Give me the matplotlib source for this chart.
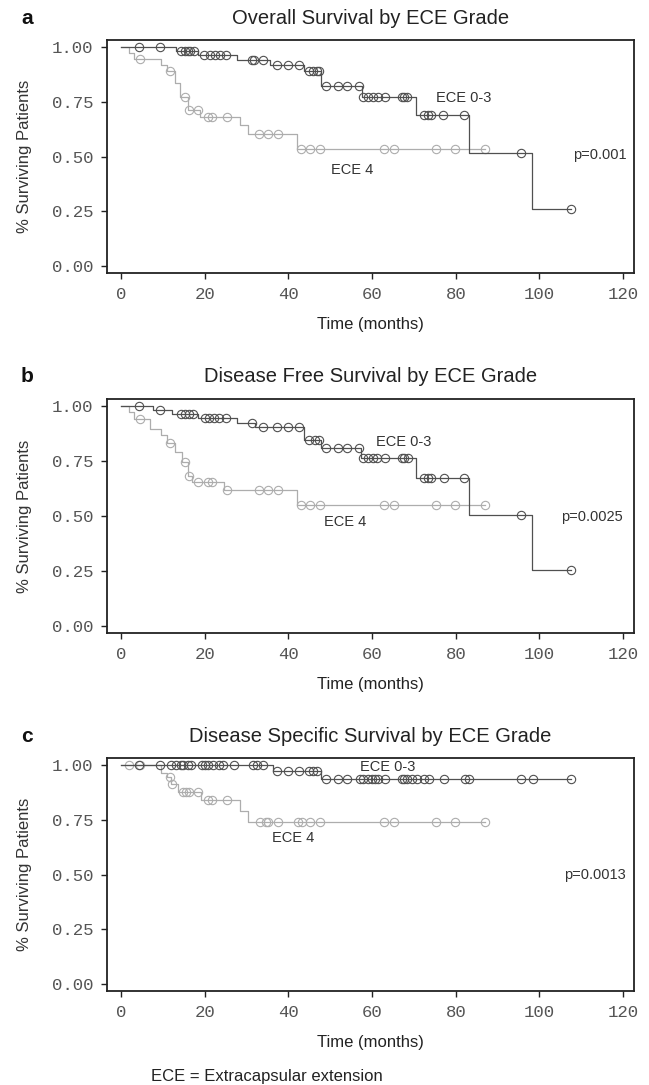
import numpy as np
import matplotlib.pyplot as plt

# ---- data ----
panel_letters = ["a", "b", "c"]
titles = ["Overall Survival by ECE Grade",
          "Disease Free Survival by ECE Grade",
          "Disease Specific Survival by ECE Grade"]
p_values = ["p=0.001", "p=0.0025", "p=0.0013"]

x_ticks = [0, 20, 40, 60, 80, 100, 120]
x_ticklabels = ["0", "20", "40", "60", "80", "100", "120"]
y_ticks = [0.0, 0.25, 0.5, 0.75, 1.0]
y_ticklabels = ["0.00", "0.25", "0.50", "0.75", "1.00"]

# (a) overall survival
os_low_t = [13.1, 18.4, 27.6, 35.6, 43.7, 47.8, 57.5, 70.4, 83.2, 98.3]
os_low_s = [0.983, 0.965, 0.943, 0.919, 0.892, 0.823, 0.774, 0.690, 0.518, 0.259]
os_low_cens = [4.3, 9.2, 14.3, 15.3, 16.0, 16.5, 17.5, 19.9, 21.3, 22.5, 23.7, 25.1,
               31.3, 31.8, 34.0, 37.2, 39.9, 42.5, 45.0, 46.0, 46.9, 47.4, 49.0,
               51.9, 54.0, 56.9, 57.9, 59.0, 60.2, 61.4, 63.1, 67.1, 67.7, 68.3,
               72.4, 73.3, 74.1, 77.0, 82.0, 95.5, 107.6]
os_high_t = [1.8, 3.2, 9.6, 11.0, 12.8, 14.2, 16.0, 18.9, 28.5, 30.4, 42.0]
os_high_s = [0.974, 0.947, 0.918, 0.892, 0.838, 0.774, 0.713, 0.683, 0.645, 0.604, 0.533]
os_high_cens = [4.5, 11.6, 15.3, 16.3, 18.3, 20.8, 21.7, 25.3, 33.0, 35.2, 37.6,
                43.0, 45.2, 47.6, 62.9, 65.3, 75.2, 79.8, 86.9]

# (b) disease free survival
dfs_low_t = [7.7, 12.1, 18.4, 27.6, 32.0, 43.7, 47.8, 57.4, 70.4, 83.2, 98.3]
dfs_low_s = [0.985, 0.967, 0.948, 0.926, 0.906, 0.848, 0.811, 0.764, 0.674, 0.507, 0.254]
dfs_low_cens = [4.3, 9.2, 14.3, 15.3, 16.3, 17.3, 20.1, 21.1, 22.3, 23.5, 25.0,
                31.3, 34.0, 37.2, 39.9, 42.6, 45.0, 46.3, 47.3, 49.0, 51.9, 54.0,
                56.8, 57.9, 59.0, 60.2, 61.2, 63.1, 67.1, 67.7, 68.5, 72.4, 73.4,
                74.0, 77.1, 82.0, 95.5, 107.6]
dfs_high_t = [1.8, 3.0, 6.9, 9.6, 11.0, 13.0, 14.5, 16.0, 17.0, 24.5, 42.0]
dfs_high_s = [0.972, 0.944, 0.898, 0.868, 0.834, 0.790, 0.746, 0.685, 0.655, 0.620, 0.551]
dfs_high_cens = [4.5, 11.6, 15.3, 16.3, 18.3, 20.8, 21.7, 25.3, 33.0, 35.2, 37.6,
                 43.0, 45.2, 47.6, 62.9, 65.3, 75.2, 79.8, 86.9]

# (c) disease specific survival
dss_low_t = [36.4, 47.8]
dss_low_s = [0.974, 0.939]
dss_low_cens = [4.3, 9.2, 12.0, 13.2, 14.4, 14.9, 15.9, 16.7, 19.3, 20.1, 20.9, 22.1,
                23.3, 24.3, 26.9, 31.6, 32.4, 34.0, 37.2, 39.8, 42.5, 45.0, 46.0,
                46.9, 49.0, 51.9, 54.0, 57.0, 57.9, 59.0, 59.9, 60.7, 61.5, 63.1,
                67.1, 67.7, 68.3, 69.5, 70.7, 72.3, 73.5, 77.2, 82.1, 83.2, 95.5,
                98.4, 107.6]
dss_high_t = [9.5, 11.0, 12.0, 13.5, 19.0, 28.4, 30.4]
dss_high_s = [0.965, 0.947, 0.912, 0.879, 0.841, 0.790, 0.739]
dss_high_cens = [2.0, 4.5, 11.6, 12.1, 14.7, 15.5, 16.3, 18.3, 20.8, 21.7, 25.3,
                 33.1, 34.6, 35.2, 37.6, 42.4, 43.2, 45.2, 47.6, 62.9, 65.3, 75.2,
                 79.8, 86.9]

panels = [
    (os_low_t, os_low_s, os_low_cens, os_high_t, os_high_s, os_high_cens),
    (dfs_low_t, dfs_low_s, dfs_low_cens, dfs_high_t, dfs_high_s, dfs_high_cens),
    (dss_low_t, dss_low_s, dss_low_cens, dss_high_t, dss_high_s, dss_high_cens),
]

# label positions (data coords)
low_label_xy = [(81.8, 0.767), (67.5, 0.837), (63.7, 0.99)]
high_label_xy = [(55.2, 0.439), (53.6, 0.472), (41.2, 0.667)]
p_xy = [(114.4, 0.508), (112.6, 0.498), (113.3, 0.50)]

# ---- layout ----
W, H = 649, 1085
fig = plt.figure(figsize=(W / 100, H / 100), dpi=100)
frames = [(40, 273), (399, 633), (758, 991)]

DARK = "#505050"
LIGHT = "#adadad"
SANS = "Liberation Sans"
MONO = "Liberation Mono"


def km(ax, st, ss, cens, color, z):
    st = np.asarray(st)
    ss = np.asarray(ss)
    cens = np.asarray(cens)
    end = max(cens.max(), st.max())
    x = np.r_[0, st, end]
    y = np.r_[1.0, ss, ss[-1]]
    ax.step(x, y, where="post", color=color, lw=0.9, zorder=z)
    idx = np.searchsorted(st, cens, side="right")
    cy = np.r_[1.0, ss][idx]
    ax.plot(cens, cy, "o", ms=6.0, mfc="none", mec=color, mew=0.8, zorder=z + 0.5)


for i, (top, bottom) in enumerate(frames):
    ax = fig.add_axes([107 / W, 1 - bottom / H, 527 / W, (bottom - top) / H])
    lt, ls, lc, ht, hs, hc = panels[i]
    km(ax, ht, hs, hc, LIGHT, 2)
    km(ax, lt, ls, lc, DARK, 3)

    ax.set_xlim(-3.35, 122.6)
    ax.set_ylim(-0.031, 1.033)
    ax.set_xticks(x_ticks, x_ticklabels, fontfamily=MONO, fontsize=12.5, color="#555")
    ax.set_yticks(y_ticks, y_ticklabels, fontfamily=MONO, fontsize=12.5, color="#555")
    ax.tick_params(direction="out", length=4, width=1, color="#222", pad=6)
    for sp in ax.spines.values():
        sp.set_linewidth(1.3)
        sp.set_color("#222")

    h = bottom - top
    ax.text(0.5, 1 + 22 / h, titles[i], transform=ax.transAxes, ha="center",
            va="center", fontsize=14.5, family=SANS, color="#222")
    ax.text(0.5, -52 / h, "Time (months)", transform=ax.transAxes, ha="center",
            va="center", fontsize=12, family=SANS, color="#222")
    fig.text(27 / W, 1 - (top - 22) / H, panel_letters[i], ha="center", va="center",
             fontsize=15, fontweight="bold", family=SANS, color="#111")
    fig.text(25 / W, 1 - (top + bottom) / 2 / H, "% Surviving Patients", rotation=90,
             ha="center", va="center", fontsize=12, family=SANS, color="#333")

    ax.text(*low_label_xy[i], "ECE 0-3", ha="center", va="center", fontsize=10.5,
            family=SANS, color="#333")
    ax.text(*high_label_xy[i], "ECE 4", ha="center", va="center", fontsize=10.5,
            family=SANS, color="#333")
    ax.text(*p_xy[i], p_values[i], ha="center", va="center", fontsize=10.5,
            family=SANS, color="#333")

fig.text(151 / W, 1 - 1077 / H, "ECE = Extracapsular extension", ha="left",
         va="center", fontsize=12, family=SANS, color="#222")

fig.savefig("out.png", dpi=100, facecolor="white")
